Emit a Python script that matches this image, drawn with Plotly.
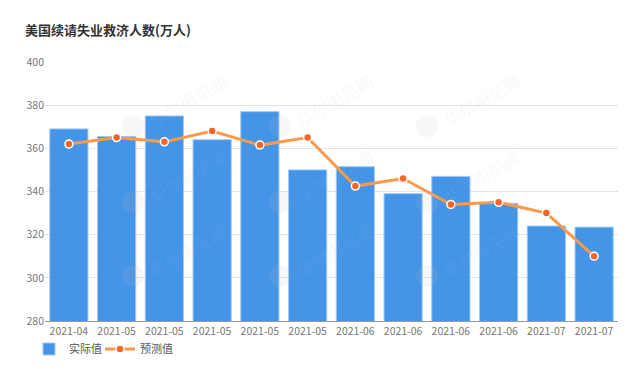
import plotly.graph_objects as go

categories = ["2021-04", "2021-05", "2021-05", "2021-05", "2021-05", "2021-05",
              "2021-06", "2021-06", "2021-06", "2021-06", "2021-07", "2021-07"]
actual = [369, 365.5, 375, 364, 377, 350, 351.5, 339, 347, 334.5, 324, 323.5]
forecast = [362, 365, 363, 368, 361.5, 365, 342.5, 346, 334, 335, 330, 310]
yticks = [280, 300, 320, 340, 360, 380, 400]

x = list(range(len(categories)))
FONT = "Noto Sans CJK SC, Noto Sans, sans-serif"
OFF = 8  # page body margin offset
W, H = 640, 369
PX0, PX1, PY0, PY1 = 45, 618, 62, 321  # plot area in page pixels

fig = go.Figure()
fig.add_trace(go.Bar(
    x=x, y=actual, name="实际值", legend="legend",
    marker=dict(color="rgba(52,140,230,0.92)", line=dict(color="rgba(160,200,245,1)", width=1)),
))
fig.add_trace(go.Scatter(
    x=x, y=forecast, name="预测值", mode="lines+markers", legend="legend2",
    line=dict(color="#fb9a4b", width=3),
    marker=dict(color="#f4672a", size=8, line=dict(color="white", width=1.5)),
))

# faint watermarks (logo + text)
def px2paper(px, py):
    return (px - PX0) / (PX1 - PX0), (PY1 - py) / (PY1 - PY0)

wm_cols = [133, 280, 427]
wm_rows = [126, 202, 276]
for cx in wm_cols:
    for cy in wm_rows:
        lx, ly = px2paper(cx, cy)
        fig.add_shape(type="circle", xref="paper", yref="paper", xsizemode="pixel",
                      ysizemode="pixel", xanchor=lx, yanchor=ly, x0=-11, x1=11, y0=-11, y1=11,
                      fillcolor="rgba(190,190,190,0.12)", line=dict(width=0), layer="above")
        tx, ty = px2paper(cx + 54, cy - 26)
        fig.add_annotation(x=tx, y=ty, xref="paper", yref="paper", text="华尔街见闻",
                           showarrow=False, textangle=-30, xanchor="center", yanchor="middle",
                           font=dict(size=17, color="rgba(190,190,190,0.11)", family=FONT))

legend_common = dict(orientation="h", xref="container", yref="container",
                     xanchor="left", yanchor="middle", y=1 - (349 - OFF) / H,
                     font=dict(size=11, color="#555"), itemwidth=30,
                     bgcolor="rgba(0,0,0,0)")

fig.update_layout(
    width=W, height=H,
    margin=dict(l=PX0 - OFF, r=W - (PX1 - OFF), t=PY0 - OFF, b=H - (PY1 - OFF), autoexpand=False),
    paper_bgcolor="white", plot_bgcolor="white",
    font=dict(family=FONT, size=11, color="#666"),
    title=dict(text="<b>美国续请失业救济人数(万人)</b>", x=(25 - OFF) / W, xanchor="left",
               y=1 - (30 - OFF) / H, yanchor="middle", font=dict(size=13, color="#333", family=FONT)),
    bargap=0.2,
    showlegend=True,
    legend=dict(x=(29 - OFF) / W, **legend_common),
    legend2=dict(x=(100 - OFF) / W, **legend_common),
    xaxis=dict(tickmode="array", tickvals=x, ticktext=categories, range=[-0.5, 11.5],
               showline=True, linecolor="#999", linewidth=1, ticks="", showgrid=False,
               automargin=False, tickfont=dict(size=10.5, color="#777")),
    yaxis=dict(range=[280, 400], tickvals=yticks, showgrid=True, gridcolor="#e3e3e3",
               gridwidth=1, zeroline=False, showline=False, ticks="", automargin=False,
               tickfont=dict(size=10.5, color="#777")),
)

fig.write_html("out.html")
